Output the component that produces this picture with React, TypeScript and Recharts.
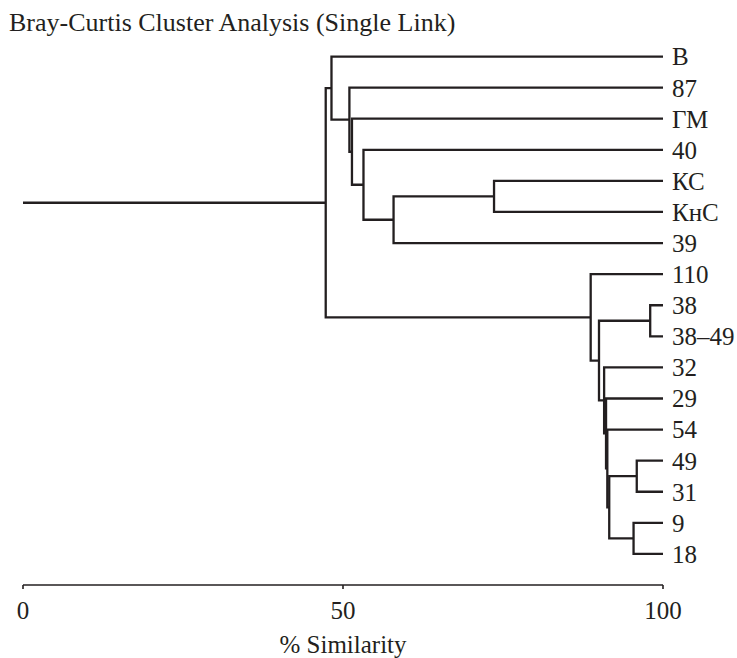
import React from "react";
import { ComposedChart, Scatter, XAxis, YAxis } from "recharts";

// leaf order top -> bottom
const leaves = ["В", "87", "ГМ", "40", "КС", "КнС", "39", "110", "38", "38–49", "32", "29", "54", "49", "31", "9", "18"];

// merges: [left, right, % similarity]; "#n" refers to the n-th merge
const merges: [string, string, number][] = [
  ["КС", "КнС", 73.6], // #0
  ["#0", "39", 57.9], // #1
  ["40", "#1", 53.2], // #2
  ["ГМ", "#2", 51.4], // #3
  ["87", "#3", 51.0], // #4
  ["В", "#4", 48.2], // #5
  ["38", "38–49", 98.0], // #6
  ["49", "31", 95.9], // #7
  ["9", "18", 95.4], // #8
  ["#7", "#8", 91.6], // #9
  ["54", "#9", 91.3], // #10
  ["29", "#10", 91.1], // #11
  ["32", "#11", 90.8], // #12
  ["#6", "#12", 90.0], // #13
  ["110", "#13", 88.7], // #14
  ["#5", "#14", 47.3], // #15 root
];

const xTicks = [0, 50, 100];

const INK = "#231f20";
const FONT = "'Liberation Serif', 'DejaVu Serif', serif";

type Node = { s: number; y: number };

const nodes: Node[] = [];
const find = (id: string): Node => {
  if (id.startsWith("#")) return nodes[Number(id.slice(1))];
  return { s: 100, y: leaves.indexOf(id) };
};

const segments: { x: number; y: number }[][] = merges.map(([a, b, s]) => {
  const na = find(a);
  const nb = find(b);
  nodes.push({ s, y: (na.y + nb.y) / 2 });
  return [
    { x: na.s, y: na.y },
    { x: s, y: na.y },
    { x: s, y: nb.y },
    { x: nb.s, y: nb.y },
  ];
});

const root = nodes[nodes.length - 1];
segments.push([
  { x: 0, y: root.y },
  { x: root.s, y: root.y },
]);

const NoDot = () => <g />;

export default function App() {
  return (
    <div style={{ position: "absolute", left: 0, top: 0, width: 737, height: 658, background: "#fff" }}>
      <div
        style={{
          position: "absolute",
          left: 9,
          top: 10,
          fontFamily: FONT,
          fontSize: 26,
          lineHeight: "26px",
          color: INK,
          whiteSpace: "nowrap",
        }}
      >
        Bray-Curtis Cluster Analysis (Single Link)
      </div>
      <ComposedChart width={737} height={658} margin={{ top: 41, right: 4, bottom: 0, left: 23 }}>
        <XAxis
          type="number"
          dataKey="x"
          domain={[0, 100]}
          ticks={xTicks}
          tickSize={4}
          tickMargin={12}
          height={73}
          axisLine={{ stroke: INK, strokeWidth: 1.6 }}
          tickLine={{ stroke: INK, strokeWidth: 1.6 }}
          tick={{ fontFamily: FONT, fontSize: 25, fill: INK }}
          label={{ value: "% Similarity", position: "insideBottom", offset: 5, style: { fontFamily: FONT, fontSize: 25, fill: INK } }}
        />
        <YAxis
          type="number"
          dataKey="y"
          orientation="right"
          domain={[-0.5, 17]}
          reversed
          ticks={leaves.map((_, i) => i)}
          interval={0}
          tickFormatter={(v: number) => leaves[v] ?? ""}
          axisLine={false}
          tickLine={false}
          tickSize={6}
          tickMargin={3}
          width={70}
          tick={{ fontFamily: FONT, fontSize: 25, fill: INK, textAnchor: "start" }}
        />
        {segments.map((pts, i) => (
          <Scatter
            key={i}
            data={pts}
            line={{ stroke: INK, strokeWidth: 2.3 }}
            lineJointType="linear"
            shape={NoDot}
            isAnimationActive={false}
          />
        ))}
      </ComposedChart>
    </div>
  );
}
